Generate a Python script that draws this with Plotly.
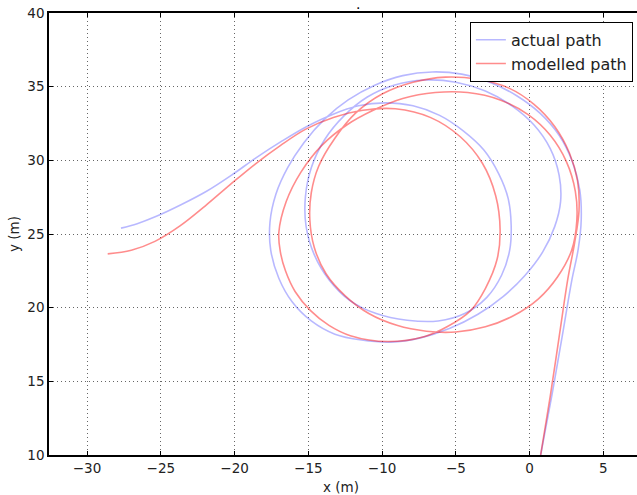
import plotly.graph_objects as go

# actual path (blue), waypoints
actual_x = [0.75, 1.5, 2.2, 2.85, 3.3, 3.5, 3.4, 2.9, 2.0, 0.7, -0.9, -2.7, -4.6, -6.6,
            -8.6, -10.5, -12.3, -13.9, -15.3, -16.4, -17.2, -17.6, -17.55, -17.0, -16.1,
            -14.8, -13.2, -11.4, -9.4, -7.4, -5.4, -3.5, -1.8, -0.3, 0.9, 1.7, 2.1, 2.0,
            1.4, 0.3, -1.2, -3.0, -5.0, -7.1, -9.2, -11.0, -12.6, -13.9, -14.8, -15.2,
            -15.15, -14.6, -13.6, -12.2, -10.4, -8.3, -6.2, -4.4, -2.9, -1.9, -1.35,
            -1.25, -1.45, -2.1, -3.1, -4.5, -6.1, -7.9, -9.8, -11.6, -13.4, -15.1, -16.8,
            -18.5, -20.2, -21.9, -23.6, -25.3, -26.6, -27.7]
actual_y = [10.0, 14.0, 18.0, 21.8, 24.0, 26.0, 28.0, 29.9, 31.7, 33.2, 34.4, 35.3, 35.85, 36.0,
            35.75, 35.1, 34.1, 32.8, 31.2, 29.5, 27.7, 25.8, 23.9, 22.0, 20.4,
            19.1, 18.2, 17.8, 17.66, 17.95, 18.6, 19.55, 20.75, 22.2, 23.8, 25.5, 27.2, 29.0,
            30.8, 32.4, 33.7, 34.7, 35.3, 35.45, 35.1, 34.3, 33.0, 31.4, 29.5, 27.5,
            25.5, 23.6, 21.9, 20.5, 19.6, 19.15, 19.1, 19.6, 20.7, 22.2, 23.9,
            25.6, 27.4, 29.1, 30.7, 32.0, 33.05, 33.7, 33.9, 33.7, 33.1, 32.3, 31.3,
            30.2, 29.0, 27.9, 27.0, 26.2, 25.7, 25.4]

# modelled path (red)
model_x = [0.75, 1.4, 2.0, 2.6, 3.05, 3.35, 3.25, 2.7, 1.7, 0.3, -1.4, -3.5, -5.7, -7.9,
           -10.0, -11.8, -13.2, -14.3, -14.8, -14.9, -14.6, -13.8, -12.5, -10.9, -9.0,
           -7.0, -5.0, -3.0, -1.1, 0.6, 1.9, 2.85, 3.2, 3.1, 2.5, 1.4, -0.1, -2.0, -4.2,
           -6.4, -8.6, -10.6, -12.4, -14.1, -15.5, -16.5, -17.0, -16.9, -16.55, -15.9,
           -14.85, -13.6, -12.15, -9.6, -7.1, -5.6, -4.0, -3.0, -2.2, -2.0, -2.3, -3.2,
           -4.7, -6.7, -9.1, -11.3, -13.3, -15.2, -16.9, -18.6, -20.3, -22.0, -23.7,
           -25.4, -27.0, -28.6]
model_y = [10.0, 14.0, 18.0, 22.0, 24.4, 26.6, 28.6, 30.5, 32.3, 33.8, 34.9, 35.5, 35.65, 35.3,
           34.5, 33.2, 31.5, 29.6, 27.8, 26.0, 24.1, 22.3, 20.8, 19.6, 18.8,
           18.4, 18.35, 18.7, 19.45, 20.6, 22.1, 23.9, 25.9, 27.9, 29.9, 31.7, 33.1, 34.1, 34.6,
           34.6, 34.2, 33.4, 32.4, 31.0, 29.2, 27.2, 25.1, 23.8, 22.5, 21.1,
           19.8, 18.8, 18.1, 17.7, 18.05, 18.7, 19.8, 21.3, 23.3, 25.3, 27.6, 29.8,
           31.6, 32.9, 33.5, 33.4, 32.9, 32.1, 31.0, 29.75, 28.35, 26.9, 25.55,
           24.5, 23.9, 23.65]

fig = go.Figure()
fig.add_trace(go.Scatter(x=actual_x, y=actual_y, mode="lines", name="actual path",
                         line=dict(color="rgba(0,0,255,0.28)", width=1.6, shape="spline", smoothing=1.0)))
fig.add_trace(go.Scatter(x=model_x, y=model_y, mode="lines", name="modelled path",
                         line=dict(color="rgba(255,0,0,0.45)", width=1.6, shape="spline", smoothing=1.0)))

font_txt = dict(family="DejaVu Sans", size=13.5, color="#222")
axis_common = dict(showgrid=True, gridcolor="rgba(0,0,0,0.6)", griddash="1px,3px", gridwidth=1,
                   zeroline=False, showline=True, linecolor="black", linewidth=1.5,
                   ticks="inside", ticklen=4, tickcolor="black", automargin=False,
                   tickfont=font_txt)

fig.update_layout(
    width=637, height=495,
    margin=dict(l=49, r=0, t=13, b=40, autoexpand=False),
    paper_bgcolor="white", plot_bgcolor="white",
    xaxis=dict(range=[-32.58, 7.28], dtick=5, mirror="ticks", **axis_common),
    yaxis=dict(range=[10, 40], dtick=5, mirror=False, **axis_common),
    legend=dict(x=0.993, y=0.98, xanchor="right", yanchor="top",
                bordercolor="black", borderwidth=1, bgcolor="white", itemwidth=30,
                font=dict(family="DejaVu Sans", size=16, color="#222")),
    showlegend=True,
    annotations=[
        dict(text=".", x=0.5255, y=1.0, xref="paper", yref="paper",
             xanchor="center", yanchor="bottom", showarrow=False, yshift=-1,
             font=dict(family="DejaVu Sans", size=14, color="black")),
        dict(text="x (m)", x=341, y=487, xref="paper", yref="paper", showarrow=False,
             font=font_txt, xanchor="center", yanchor="middle"),
        dict(text="y (m)", x=14, y=234, xref="paper", yref="paper", showarrow=False,
             font=font_txt, xanchor="center", yanchor="middle", textangle=-90),
    ],
)
# convert pixel positions of axis titles into paper coordinates
pl, pw, pt, ph = 49, 588, 13, 442
for a in fig.layout.annotations[1:]:
    a.x = (a.x - pl) / pw
    a.y = 1 - (a.y - pt) / ph

fig.write_html("out.html", config={"displayModeBar": False},
               post_script="document.body.style.margin='0';document.body.style.overflow='hidden';")
